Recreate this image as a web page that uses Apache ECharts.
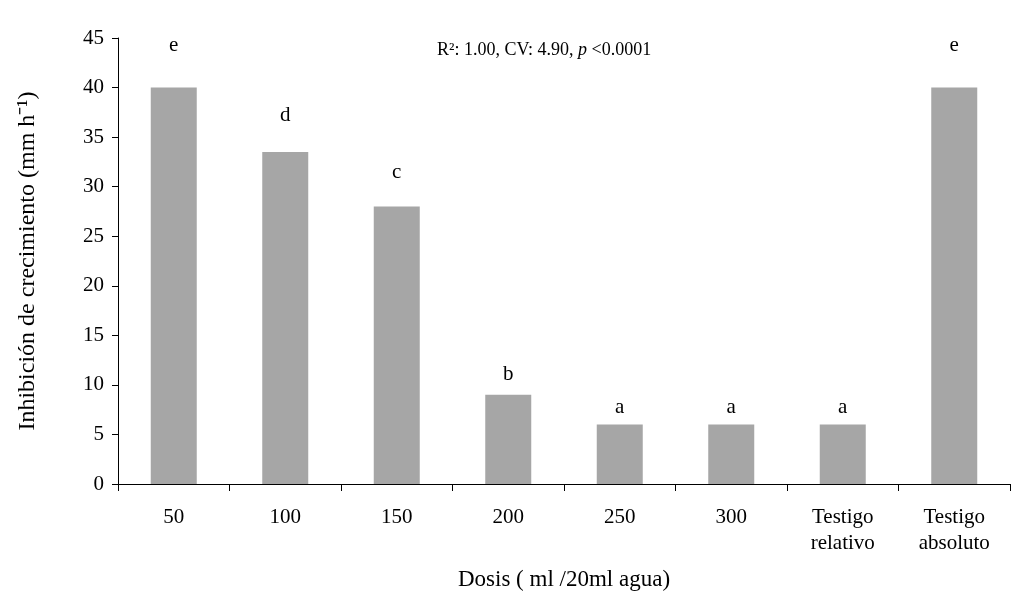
<!DOCTYPE html>
<html><head><meta charset="utf-8">
<script src="https://cdn.jsdelivr.net/npm/echarts@6/dist/echarts.min.js"></script>
<style>body{margin:0}#c{width:1017px;height:607px}</style></head>
<body><div id="c"></div>
<script>
const categories = ['50','100','150','200','250','300','Testigo\nrelativo','Testigo\nabsoluto'];
const values = [40, 33.5, 28, 9, 6, 6, 6, 40];
const letters = ['e','d','c','b','a','a','a','e'];
const labelGaps = [32, 26, 24, 10, 7, 7, 7, 32];
const F = '"Liberation Serif","Times New Roman",serif';
const chart = echarts.init(document.getElementById('c'));
chart.setOption({
  animation:false,
  textStyle:{fontFamily:F,color:'#000'},
  title:{text:'{n|R²: 1.00, CV: 4.90, }{i|p}{n| <0.0001}',left:432,top:36,
    textStyle:{fontWeight:'normal',rich:{n:{fontFamily:F,fontSize:18,fontWeight:'normal',color:'#000'},i:{fontFamily:F,fontSize:18,fontWeight:'normal',fontStyle:'italic',color:'#000'}}}},
  grid:{left:118,right:7,top:38,bottom:123},
  xAxis:{type:'category',data:categories,
    name:'Dosis ( ml /20ml agua)',nameLocation:'middle',nameGap:84,
    nameTextStyle:{fontFamily:F,fontSize:23,color:'#000'},
    axisLine:{lineStyle:{color:'#000'}},
    axisTick:{show:true,length:7,lineStyle:{color:'#000'}},
    axisLabel:{fontFamily:F,fontSize:21,color:'#000',margin:20,lineHeight:26}},
  yAxis:{type:'value',min:0,max:45,interval:5,
    name:'Inhibición de crecimiento (mm h⁻¹)',nameLocation:'middle',nameGap:78,
    nameTextStyle:{fontFamily:F,fontSize:24,color:'#000'},
    axisLine:{show:true,lineStyle:{color:'#000'}},
    axisTick:{show:true,length:6,lineStyle:{color:'#000'}},
    splitLine:{show:false},
    axisLabel:{fontFamily:F,fontSize:21,color:'#000',margin:14}},
  series:[{type:'bar',barWidth:46,itemStyle:{color:'#a6a6a6'},
    data:values.map((v,i)=>({value:v,label:{distance:labelGaps[i]}})),
    label:{show:true,position:'top',fontFamily:F,fontSize:21,color:'#000',
      formatter:p=>letters[p.dataIndex]}}]
});
</script></body></html>
